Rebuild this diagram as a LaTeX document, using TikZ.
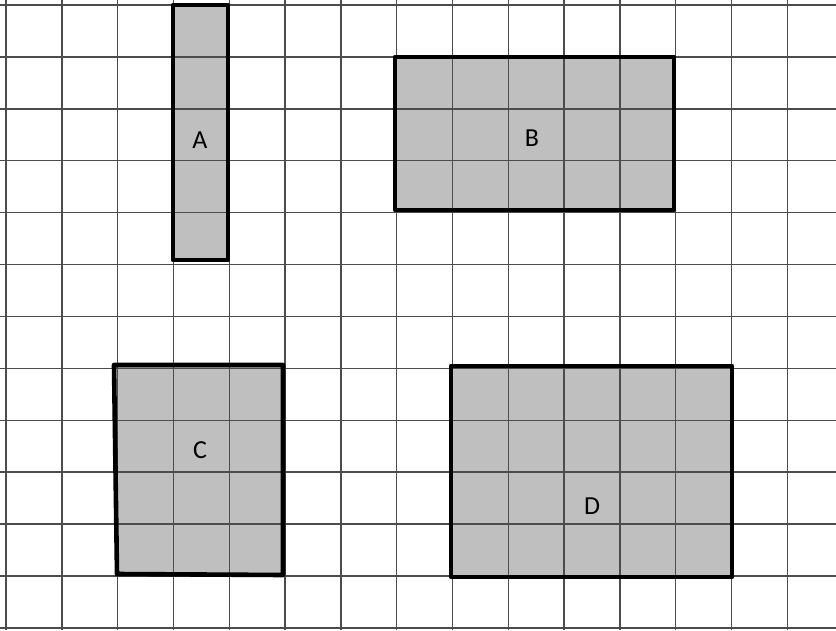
\documentclass[tikz,border=0pt]{standalone}
\usepackage{fontspec}
\setmainfont{Carlito}
\tikzstyle{every node}=[font=\fontsize{26}{30}\selectfont]
\tikzstyle{gridline} = [draw=black!70, line width=1.4pt]
\tikzstyle{area} = [fill=black!25]
\tikzstyle{border} = [draw=black, line width=4.6pt, line join=round]

\begin{document}
\begin{tikzpicture}[x=1pt, y=-1pt]
    \useasboundingbox (0,0) rectangle (836,630);
    % Shaded areas
    \path [area] (173,5) rectangle (228,260);
    \path [area] (395,57) rectangle (674,210);
    \path [area] (115,365) rectangle (283,575);
    \path [area] (451,366) rectangle (732,577);
    % Grid
    \foreach \i in {0,...,14}
        \draw [gridline] ({6+55.8*\i},0) -- ({6+55.8*\i},630);
    \foreach \j in {0,...,12}
        \draw [gridline] (0,{5+51.9*\j}) -- (836,{5+51.9*\j});
    % Outlines
    \draw [border] (173,5) rectangle (228,260);
    \draw [border] (395,57) rectangle (674,210);
    \draw [border] (114,365) -- (283,365) -- (283,575) -- (117,574) -- cycle;
    \draw [border] (451,366) rectangle (732,577);
    % Labels
    \node (a) at (200,140) {A};
    \node (b) at (532,138) {B};
    \node (c) at (200,450) {C};
    \node (d) at (592,506) {D};
\end{tikzpicture}
\end{document}
